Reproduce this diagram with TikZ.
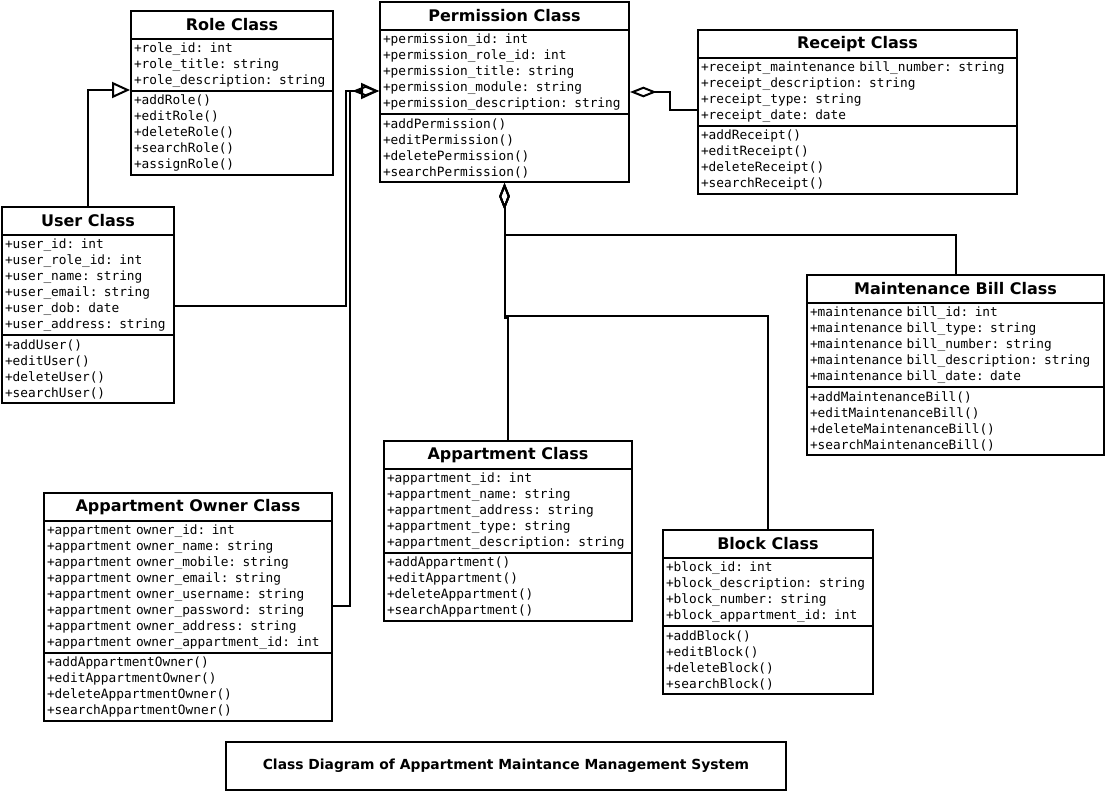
\documentclass[tikz,border=0pt]{standalone}
\usepackage{fontspec}
\setmainfont{DejaVu Sans}
\newfontfamily\membfont{DejaVu Sans Mono}
\usetikzlibrary{arrows.meta,calc}

\tikzset{
	ttl/.style={draw, line width=1.5pt, anchor=north west, inner sep=0pt, minimum width=#1*0.75pt, minimum height=21pt, font=\bfseries\fontsize{12}{14}\selectfont},
	sect/.style 2 args={draw, line width=1.5pt, anchor=north west, inner xsep=2.25pt, inner ysep=0pt, text width=#1*0.75pt-4.5pt, minimum height=#2*12pt+3pt, align=left, font=\membfont\fontsize{9.6}{12}\selectfont},
	gen/.style={line width=1.5pt, -{Triangle[open, length=13.5pt, width=12pt]}},
	aggr/.style={line width=1.5pt, -{Diamond[open, length=20pt, width=8pt]}}
}

\begin{document}
\begin{tikzpicture}[line join=miter,x=0.75pt,y=-0.75pt]
			\useasboundingbox (0,0) rectangle (1105,792);
			\node[ttl=202] (role) at (130,10) {Role Class};
			\node[sect={202}{3}] (role-a) at (130,38) {+role\_id: int\\+role\_title: string\\+role\_description: string};
			\node[sect={202}{5}] (role-m) at (130,90) {+addRole()\\+editRole()\\+deleteRole()\\+searchRole()\\+assignRole()};
			\node[ttl=249] (perm) at (379,1) {Permission Class};
			\node[sect={249}{5}] (perm-a) at (379,29) {+permission\_id: int\\+permission\_role\_id: int\\+permission\_title: string\\+permission\_module: string\\+permission\_description: string};
			\node[sect={249}{4}] (perm-m) at (379,113) {+addPermission()\\+editPermission()\\+deletePermission()\\+searchPermission()};
			\node[ttl=319] (rec) at (697,29) {Receipt Class};
			\node[sect={319}{4}] (rec-a) at (697,57) {+receipt\_maintenance bill\_number: string\\+receipt\_description: string\\+receipt\_type: string\\+receipt\_date: date};
			\node[sect={319}{4}] (rec-m) at (697,125) {+addReceipt()\\+editReceipt()\\+deleteReceipt()\\+searchReceipt()};
			\node[ttl=172] (user) at (1,206) {User Class};
			\node[sect={172}{6}] (user-a) at (1,234) {+user\_id: int\\+user\_role\_id: int\\+user\_name: string\\+user\_email: string\\+user\_dob: date\\+user\_address: string};
			\node[sect={172}{4}] (user-m) at (1,334) {+addUser()\\+editUser()\\+deleteUser()\\+searchUser()};
			\node[ttl=297] (maint) at (806,274) {Maintenance Bill Class};
			\node[sect={297}{5}] (maint-a) at (806,302) {+maintenance bill\_id: int\\+maintenance bill\_type: string\\+maintenance bill\_number: string\\+maintenance bill\_description: string\\+maintenance bill\_date: date};
			\node[sect={297}{4}] (maint-m) at (806,386) {+addMaintenanceBill()\\+editMaintenanceBill()\\+deleteMaintenanceBill()\\+searchMaintenanceBill()};
			\node[ttl=248] (apt) at (383,440) {Appartment Class};
			\node[sect={248}{5}] (apt-a) at (383,468) {+appartment\_id: int\\+appartment\_name: string\\+appartment\_address: string\\+appartment\_type: string\\+appartment\_description: string};
			\node[sect={248}{4}] (apt-m) at (383,552) {+addAppartment()\\+editAppartment()\\+deleteAppartment()\\+searchAppartment()};
			\node[ttl=288] (owner) at (43,492) {Appartment Owner Class};
			\node[sect={288}{8}] (owner-a) at (43,520) {+appartment owner\_id: int\\+appartment owner\_name: string\\+appartment owner\_mobile: string\\+appartment owner\_email: string\\+appartment owner\_username: string\\+appartment owner\_password: string\\+appartment owner\_address: string\\+appartment owner\_appartment\_id: int};
			\node[sect={288}{4}] (owner-m) at (43,652) {+addAppartmentOwner()\\+editAppartmentOwner()\\+deleteAppartmentOwner()\\+searchAppartmentOwner()};
			\node[ttl=210] (block) at (662,529) {Block Class};
			\node[sect={210}{4}] (block-a) at (662,557) {+block\_id: int\\+block\_description: string\\+block\_number: string\\+block\_appartment\_id: int};
			\node[sect={210}{4}] (block-m) at (662,625) {+addBlock()\\+editBlock()\\+deleteBlock()\\+searchBlock()};
			\node[draw, line width=1.5pt, anchor=north west, inner sep=0pt, minimum width=420pt, minimum height=36pt, font=\bfseries\fontsize{10.4}{12}\selectfont] (title) at (225,741) {Class Diagram of Appartment Maintance Management System};
			\draw[gen] (user.north) |- (role-m.north west);
			\draw[aggr] ($(user-a.east)+(0,21)$) -- ++(171,0) |- ($(perm-a.west)+(0,19)$);
			\draw[gen] ($(owner-a.east)+(0,19)$) -- ++(17,0) |- ($(perm-a.west)+(0,19)$);
			\draw[aggr] ($(rec-a.west)+(0,18)$) -- ++(-27,0) |- ($(perm-a.east)+(0,20)$);
			\draw[aggr] (maint.north) -- ++(0,-39) -| (perm-m.south);
			\draw[aggr] (apt.north) -- ++(0,-122) -| (perm-m.south);
			\draw[aggr] (block.north) -- ++(0,-213) -| (perm-m.south);
\end{tikzpicture}
\end{document}
